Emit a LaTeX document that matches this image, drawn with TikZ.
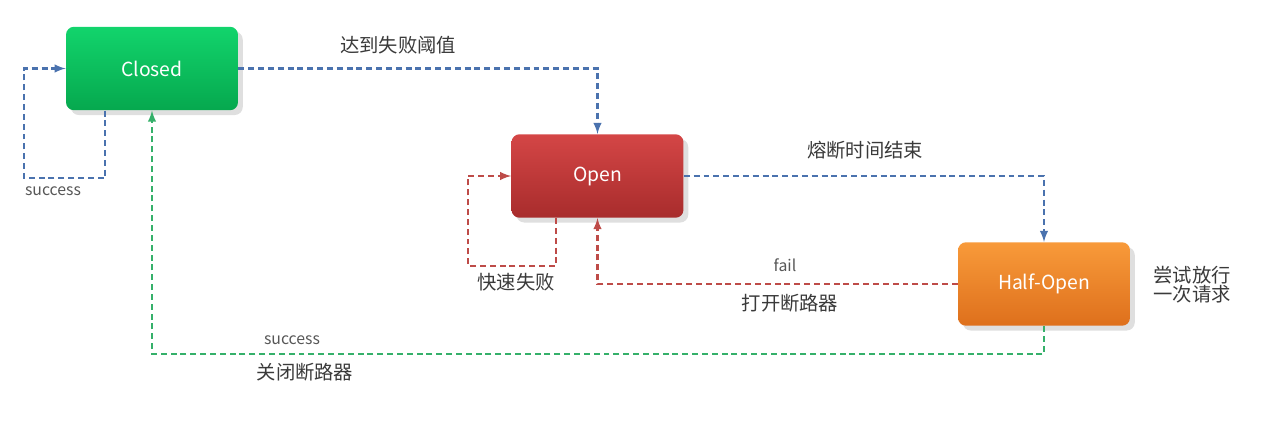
\documentclass[tikz,border=0pt]{standalone}
\usepackage{fontspec}
\setmainfont{Noto Sans CJK SC}
\usepackage{tikz}
\usetikzlibrary{shadows}

\definecolor{flowblue}{HTML}{4A72AE}
\definecolor{flowred}{HTML}{BE4B48}
\definecolor{flowgreen}{HTML}{35B06A}
\definecolor{txtgray}{HTML}{3A3A3A}
\definecolor{greentop}{HTML}{12D46C}
\definecolor{greenbot}{HTML}{06A84E}
\definecolor{redtop}{HTML}{D44646}
\definecolor{redbot}{HTML}{A82C2C}
\definecolor{orgtop}{HTML}{F89A3A}
\definecolor{orgbot}{HTML}{DE701C}

\begin{document}
\begin{tikzpicture}[
        x=0.02cm, y=-0.02cm,
        state/.style={rounded corners=0.16cm,minimum width=3.44cm,minimum height=1.67cm,
          text=white,font=\fontsize{11}{13}\selectfont,drop shadow={opacity=0.25}},
        link/.style={dashed,dash pattern=on 3.4pt off 2.2pt,line width=1.15pt,-latex},
        lbl/.style={text=txtgray,font=\fontsize{11}{13}\selectfont,inner sep=1pt},
        small/.style={text=txtgray!85,font=\fontsize{9}{11}\selectfont,inner sep=1pt},
      ]
      \useasboundingbox (0,0) rectangle (1269,420);
      % states
      \node[state,top color=greentop,bottom color=greenbot] (closed) at (152,68.5) {Closed};
      \node[state,top color=redtop,bottom color=redbot] (open) at (597.5,176) {Open};
      \node[state,top color=orgtop,bottom color=orgbot] (half) at (1044,284) {Half-Open};

      % turning points
      \coordinate (cloop) at (24,178);
      \coordinate (oloop) at (468,266);
      \coordinate (gline) at (0,354);

      % connectors
      \draw[link,flowblue] ([xshift=-0.94cm]closed.south) |- (cloop) |- (closed.west);
      \draw[link,flowblue] (closed.east) -| (open.north);
      \draw[link,flowblue] (open.east) -| (half.north);
      \draw[link,flowred] ([xshift=-0.83cm]open.south) |- (oloop) |- (open.west);
      \draw[link,flowred] (half.west) -| (open.south);
      \draw[link,flowgreen] (half.south) -- (half.south |- gline) -| (closed.south);

      % labels
      \node[small] (succ1) at (53,191) {success};
      \node[lbl] (reach) at (398,45) {达到失败阈值};
      \node[lbl] (timeout) at (865,150) {熔断时间结束};
      \node[lbl] (fastfail) at (516,282) {快速失败};
      \node[small] (fail) at (785,265) {fail};
      \node[lbl] (opencb) at (790,303) {打开断路器};
      \node[small] (succ2) at (292,340) {success};
      \node[lbl] (closecb) at (305,372) {关闭断路器};
      \node[lbl,align=left] (trial) at (1192,285) {尝试放行\\[-2pt]一次请求};
    \end{tikzpicture}
\end{document}
